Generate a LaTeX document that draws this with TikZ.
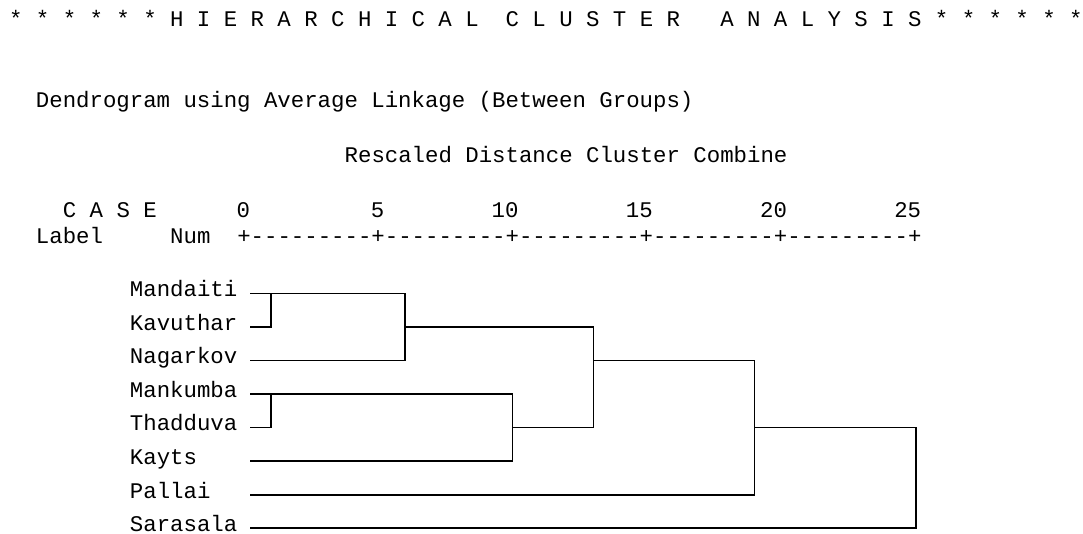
\documentclass[tikz,border=0pt]{standalone}
\usepackage{fontspec}
\newfontfamily\spssfont[Ligatures=TeXOff]{Liberation Mono}
\usetikzlibrary{calc}

\begin{document}
\begin{tikzpicture}[x=0.75pt, y=-0.75pt,
    txt/.style={anchor=base west, inner sep=0pt, font=\spssfont\fontsize{16.77}{20}\selectfont},
    link/.style={line width=1.2pt, black}]
    \useasboundingbox (0,0) rectangle (1083,533);
    %%Headings
    \node[txt] (title) at (8.9,26.5) {* * * * * * H I E R A R C H I C A L~~C L U S T E R~~~A N A L Y S I S * * * * * *};
    \node[txt] (method) at (35.7,107.5) {Dendrogram using Average Linkage (Between Groups)};
    \node[txt] (rescaled) at (344.4,162) {Rescaled Distance Cluster Combine};
    %%Scale
    \node[txt] (case) at (62.6,217.3) {C A S E};
    \foreach \d in {0,5,...,25}
        \node[txt, anchor=base east] (d\d) at ({250.4+\d*26.84},217.3) {\d};
    \node[txt] (label) at (35.7,243.3) {Label};
    \node[txt] (num) at (169.9,243.3) {Num};
    \node[txt] (ruler) at (237.0,243.3) {+---------+---------+---------+---------+---------+};
    %%Cases
    \foreach \name/\lab [count=\i] in {mandaiti/Mandaiti, kavuthar/Kavuthar, nagarkov/Nagarkov, mankumba/Mankumba,
            thadduva/Thadduva, kayts/Kayts, pallai/Pallai, sarasala/Sarasala} {
        \node[txt] (\name) at (129.7,{296.7+(\i-1)*33.57}) {\lab};
        \coordinate (\name-s) at (250,{293.3+(\i-1)*33.57});
    }
    %%Merge distances
    \coordinate (j1) at (271,0);
    \coordinate (j2) at (405,0);
    \coordinate (j3) at (512.3,0);
    \coordinate (j4) at (593.3,0);
    \coordinate (j5) at (754.3,0);
    \coordinate (j6) at (915.7,0);
    %%Tree
    \draw[link] (kavuthar-s) -| (mandaiti-s -| j1);
    \draw[link] (mandaiti-s) -| (nagarkov-s -| j2) -- (nagarkov-s);
    \draw[link] (thadduva-s) -| (mankumba-s -| j1);
    \draw[link] (mankumba-s) -| (kayts-s -| j3) -- (kayts-s);
    \draw[link] (kavuthar-s -| j2) -| (thadduva-s -| j4);
    \draw[link] (thadduva-s -| j3) -- (thadduva-s -| j4);
    \draw[link] (nagarkov-s -| j4) -| (pallai-s -| j5) -- (pallai-s);
    \draw[link] (thadduva-s -| j5) -| (sarasala-s -| j6) -- (sarasala-s);
\end{tikzpicture}
\end{document}
